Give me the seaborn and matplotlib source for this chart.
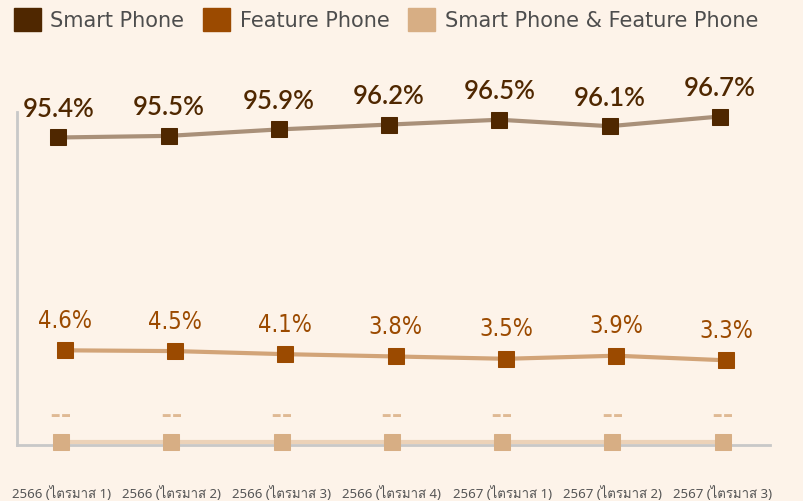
import numpy as np
import pandas as pd
import matplotlib
matplotlib.use('Agg')
import matplotlib.pyplot as plt
from matplotlib import font_manager
from matplotlib.ft2font import FT2Font
from matplotlib.patches import Patch
import seaborn as sns

# ข้อมูลรายไตรมาส
periods = ['2566 (ไตรมาส 1)', '2566 (ไตรมาส 2)', '2566 (ไตรมาส 3)', '2566 (ไตรมาส 4)',
           '2567 (ไตรมาส 1)', '2567 (ไตรมาส 2)', '2567 (ไตรมาส 3)']
smart_phone = [95.4, 95.5, 95.9, 96.2, 96.5, 96.1, 96.7]
feature_phone = [4.6, 4.5, 4.1, 3.8, 3.5, 3.9, 3.3]
both_phone = [0, 0, 0, 0, 0, 0, 0]
both_labels = ['--', '--', '--', '--', '--', '--', '--']
series_names = ['Smart Phone', 'Feature Phone', 'Smart Phone & Feature Phone']


def thai_families():
    # หาฟอนต์ที่มีอักษรไทยในเครื่อง
    found = []
    for f in font_manager.fontManager.ttflist:
        try:
            cmap = FT2Font(f.fname).get_charmap()
        except Exception:
            continue
        if 0x0E15 in cmap and 0x0E21 in cmap and f.name not in found:
            found.append(f.name)
    return found


bg = '#fdf3e9'
sns.set_style('white')
thai = thai_families()
plt.rcParams['font.family'] = ['DejaVu Sans'] + thai + ['Noto Sans']
tick_family = ['Noto Sans'] + thai + ['DejaVu Sans']

fig = plt.figure(figsize=(8.04, 5.02), dpi=100, facecolor=bg)
ax1 = fig.add_axes([0.0211, 0.1116, 0.9366, 0.663], facecolor=bg)
ax2 = ax1.twinx()
ax3 = ax1.twinx()

x = np.arange(len(periods))
df = pd.DataFrame({'x': x, 'smart': smart_phone, 'feature': feature_phone, 'both': both_phone})

# เส้น Smart Phone
sns.lineplot(data=df.assign(x=df.x - 0.025), x='x', y='smart', ax=ax1, color='#a99079', lw=3,
             marker='s', markersize=12, markerfacecolor='#4f2700', markeredgecolor='#4f2700',
             clip_on=False, legend=False)
# เส้น Feature Phone
sns.lineplot(data=df.assign(x=df.x + 0.035), x='x', y='feature', ax=ax2, color='#d2a478', lw=3,
             marker='s', markersize=12, markerfacecolor='#9b4a00', markeredgecolor='#9b4a00',
             clip_on=False, legend=False)
# เส้น Smart Phone & Feature Phone
sns.lineplot(data=df, x='x', y='both', ax=ax3, color='#ecd2b8', lw=3,
             marker='s', markersize=12, markerfacecolor='#d7ae84', markeredgecolor='#d7ae84',
             clip_on=False, legend=False)

for xi, v in zip(x, smart_phone):
    ax1.annotate(f'{v}%', (xi - 0.025, v), xytext=(0, 21), textcoords='offset points',
                 ha='center', va='center', fontsize=18.5, color='#4f2700',
                 family='Lato', fontweight='semibold', annotation_clip=False)
for xi, v in zip(x, feature_phone):
    ax2.annotate(f'{v}%', (xi + 0.035, v), xytext=(0, 22), textcoords='offset points',
                 ha='center', va='center', fontsize=17, color='#9b4a00',
                 family='DejaVu Sans', fontstretch='condensed', annotation_clip=False)
for xi, v, lab in zip(x, both_phone, both_labels):
    ax3.annotate(lab, (xi, v), xytext=(0, 20), textcoords='offset points',
                 ha='center', va='center', fontsize=22, color='#dfb994',
                 family='Lato', fontweight='bold', annotation_clip=False)

ax1.set_xlim(-0.4, 6.43)
ax1.set_ylim(76.35, 96.97)
ax2.set_ylim(-7.7, 35.55)
ax3.set_ylim(-0.08, 10)

ax1.set_xticks(x)
ax1.set_xticklabels(periods, family=tick_family)
ax1.tick_params(axis='x', length=0, pad=29, labelsize=9.5, labelcolor='#555555')
for ax in (ax1, ax2, ax3):
    ax.set_yticks([])
    ax.set_xlabel('')
    ax.set_ylabel('')
    for s in ax.spines.values():
        s.set_visible(False)
for side in ('left', 'bottom'):
    ax1.spines[side].set_visible(True)
    ax1.spines[side].set_color('#c8c8c8')
    ax1.spines[side].set_linewidth(2)

handles = [Patch(color=c, label=n) for c, n in zip(['#4f2700', '#9b4a00', '#d7ae84'], series_names)]
leg = fig.legend(handles=handles, loc='upper left', bbox_to_anchor=(14 / 804, 1 - 9 / 502),
                 ncol=3, frameon=False, fontsize=15, handlelength=1.3, handleheight=1.3,
                 handletextpad=0.45, columnspacing=0.9, borderaxespad=0, borderpad=0)
for t in leg.get_texts():
    t.set_color('#4d4d4d')

plt.savefig('out.png', dpi=100, facecolor=bg)
